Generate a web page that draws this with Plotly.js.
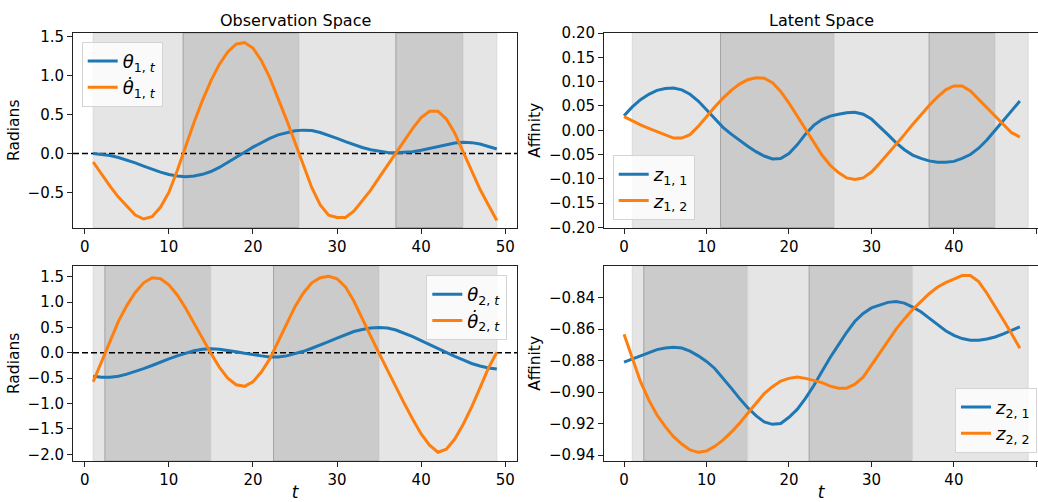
<!DOCTYPE html>
<html><head><meta charset="utf-8">
<script src="https://cdn.plot.ly/plotly-3.0.1.min.js"></script>
<style>html,body{margin:0;padding:0;background:#fff}#chart{width:1038px;height:502px}</style>
</head><body><div id="chart"></div>
<script>
// ---------- data ----------
const tObs = [1,2,3,4,5,6,7,8,9,10,11,12,13,14,15,16,17,18,19,20,21,22,23,24,25,26,27,28,29,30,31,32,33,34,35,36,37,38,39,40,41,42,43,44,45,46,47,48,49];
const tLat = [0,1,2,3,4,5,6,7,8,9,10,11,12,13,14,15,16,17,18,19,20,21,22,23,24,25,26,27,28,29,30,31,32,33,34,35,36,37,38,39,40,41,42,43,44,45,46,47,48];

const theta1 = [0.000,-0.010,-0.028,-0.053,-0.085,-0.122,-0.162,-0.203,-0.240,-0.270,-0.290,-0.298,-0.290,-0.268,-0.232,-0.180,-0.118,-0.052,0.015,0.080,0.140,0.193,0.237,0.268,0.289,0.298,0.292,0.267,0.232,0.192,0.150,0.110,0.075,0.046,0.026,0.013,0.008,0.012,0.022,0.040,0.064,0.090,0.114,0.132,0.142,0.138,0.120,0.092,0.057];
const theta1dot = [-0.11,-0.27,-0.42,-0.56,-0.68,-0.79,-0.84,-0.81,-0.69,-0.50,-0.22,0.10,0.40,0.68,0.93,1.14,1.30,1.40,1.42,1.35,1.19,0.97,0.71,0.43,0.14,-0.16,-0.44,-0.66,-0.79,-0.82,-0.82,-0.74,-0.61,-0.47,-0.31,-0.15,0.01,0.17,0.32,0.46,0.54,0.54,0.44,0.26,0.02,-0.23,-0.46,-0.66,-0.86];

const theta2 = [-0.46,-0.48,-0.48,-0.46,-0.42,-0.37,-0.31,-0.25,-0.18,-0.12,-0.06,-0.01,0.04,0.07,0.08,0.07,0.05,0.02,-0.01,-0.04,-0.06,-0.08,-0.08,-0.06,-0.02,0.03,0.09,0.15,0.22,0.29,0.36,0.42,0.46,0.49,0.50,0.49,0.45,0.39,0.32,0.24,0.16,0.08,0.00,-0.07,-0.14,-0.21,-0.26,-0.30,-0.32];
const theta2dot = [-0.57,-0.17,0.25,0.62,0.93,1.19,1.38,1.48,1.46,1.34,1.14,0.88,0.58,0.28,-0.01,-0.28,-0.50,-0.63,-0.66,-0.57,-0.38,-0.12,0.22,0.58,0.91,1.18,1.38,1.48,1.51,1.46,1.30,1.02,0.69,0.33,-0.01,-0.35,-0.68,-1.00,-1.31,-1.60,-1.82,-1.96,-1.90,-1.70,-1.41,-1.07,-0.69,-0.30,0.01];

const z11 = [0.030,0.048,0.063,0.074,0.082,0.086,0.087,0.083,0.074,0.060,0.042,0.023,0.006,-0.008,-0.021,-0.033,-0.044,-0.053,-0.059,-0.058,-0.048,-0.030,-0.008,0.010,0.022,0.029,0.033,0.036,0.037,0.033,0.023,0.008,-0.009,-0.026,-0.040,-0.051,-0.058,-0.063,-0.066,-0.066,-0.064,-0.058,-0.050,-0.037,-0.020,0.000,0.020,0.040,0.060];
const z12 = [0.028,0.019,0.011,0.004,-0.003,-0.010,-0.016,-0.016,-0.009,0.008,0.029,0.048,0.066,0.082,0.095,0.104,0.108,0.107,0.098,0.080,0.056,0.029,0.001,-0.026,-0.051,-0.072,-0.087,-0.098,-0.101,-0.098,-0.086,-0.068,-0.049,-0.029,-0.009,0.012,0.032,0.051,0.068,0.083,0.091,0.091,0.081,0.064,0.045,0.028,0.011,-0.005,-0.014];

const z21 = [-0.881,-0.879,-0.8775,-0.875,-0.873,-0.872,-0.8715,-0.872,-0.874,-0.877,-0.8805,-0.885,-0.891,-0.8975,-0.904,-0.910,-0.915,-0.919,-0.9205,-0.920,-0.916,-0.911,-0.904,-0.896,-0.887,-0.878,-0.870,-0.862,-0.855,-0.850,-0.8465,-0.8445,-0.843,-0.8425,-0.8435,-0.846,-0.849,-0.853,-0.857,-0.861,-0.864,-0.866,-0.867,-0.867,-0.8663,-0.865,-0.863,-0.8608,-0.8585];
const z22 = [-0.8633,-0.879,-0.8934,-0.905,-0.9146,-0.922,-0.9283,-0.933,-0.9368,-0.9383,-0.9375,-0.9345,-0.9305,-0.9255,-0.9199,-0.9135,-0.9072,-0.901,-0.8966,-0.893,-0.8913,-0.8905,-0.8913,-0.8925,-0.894,-0.8962,-0.8976,-0.8975,-0.895,-0.8905,-0.8828,-0.8754,-0.8675,-0.860,-0.8535,-0.8476,-0.8425,-0.8375,-0.8334,-0.8305,-0.8283,-0.826,-0.826,-0.8298,-0.8372,-0.8455,-0.8542,-0.863,-0.8722];

// shaded phases (t boundaries)
const topSpanStart = [1, 11.7, 25.5, 37.0, 45.0];
const topSpanEnd   = [11.7, 25.5, 37.0, 45.0, 49];
const topSpanShade = ['light','dark','light','dark','light'];
const botSpanStart = [1, 2.4, 15.0, 22.45, 35.0];
const botSpanEnd   = [2.4, 15.0, 22.45, 35.0, 49];
const botSpanShade = ['light','dark','light','dark','light'];

const xTicks = [0,10,20,30,40,50];
const yTicksTL = [-0.5,0.0,0.5,1.0,1.5];
const yTicksTR = [-0.20,-0.15,-0.10,-0.05,0.00,0.05,0.10,0.15,0.20];
const yTicksBL = [-2.0,-1.5,-1.0,-0.5,0.0,0.5,1.0,1.5];
const yTicksBR = [-0.94,-0.92,-0.90,-0.88,-0.86,-0.84];

// ---------- styling ----------
const BLUE = '#1f77b4', ORANGE = '#ff7f0e';
const FONT = 'DejaVu Sans, sans-serif';
const W = 1038, H = 502;
const px = v => v / W;
const py = v => 1 - v / H;

const lbl = {
  th1: '<i>θ</i><sub>1, <i>t</i></sub>',
  th1d: '<i>θ̇</i><sub>1, <i>t</i></sub>',
  th2: '<i>θ</i><sub>2, <i>t</i></sub>',
  th2d: '<i>θ̇</i><sub>2, <i>t</i></sub>',
  z11: '<i>z</i><sub>1, 1</sub>',
  z12: '<i>z</i><sub>1, 2</sub>',
  z21: '<i>z</i><sub>2, 1</sub>',
  z22: '<i>z</i><sub>2, 2</sub>'
};

function tr(x, y, color, name, xa, ya, leg) {
  return {x: x, y: y, type: 'scatter', mode: 'lines', name: name,
    line: {color: color, width: 3}, xaxis: xa, yaxis: ya, legend: leg};
}
const data = [
  tr(tObs, theta1, BLUE, lbl.th1, 'x', 'y', 'legend'),
  tr(tObs, theta1dot, ORANGE, lbl.th1d, 'x', 'y', 'legend'),
  tr(tLat, z11, BLUE, lbl.z11, 'x2', 'y2', 'legend2'),
  tr(tLat, z12, ORANGE, lbl.z12, 'x2', 'y2', 'legend2'),
  tr(tObs, theta2, BLUE, lbl.th2, 'x3', 'y3', 'legend3'),
  tr(tObs, theta2dot, ORANGE, lbl.th2d, 'x3', 'y3', 'legend3'),
  tr(tLat, z21, BLUE, lbl.z21, 'x4', 'y4', 'legend4'),
  tr(tLat, z22, ORANGE, lbl.z22, 'x4', 'y4', 'legend4')
];

function axisBase() {
  return {showline: true, mirror: true, linecolor: '#222', linewidth: 1,
    ticks: 'outside', ticklen: 5, tickwidth: 1, tickcolor: '#222',
    showgrid: false, zeroline: false, fixedrange: true,
    tickfont: {family: FONT, size: 15, color: '#000'}};
}
function xax(domain, range, anchor, title) {
  const a = Object.assign(axisBase(), {domain: domain, range: range, anchor: anchor,
    tickmode: 'array', tickvals: xTicks, ticktext: xTicks.map(String)});
  if (title) a.title = {text: title, font: {family: FONT, size: 17, color: '#000'}, standoff: 7};
  return a;
}
function yax(domain, range, anchor, ticks, fmt, title) {
  return Object.assign(axisBase(), {domain: domain, range: range, anchor: anchor,
    tickmode: 'array', tickvals: ticks, tickformat: fmt,
    title: {text: title, font: {family: FONT, size: 15.5, color: '#000'}, standoff: 4}});
}

const leftX = [px(73), px(517)];
const rightX = [px(604), 1];
const topY = [py(227.5), py(33)];
const botY = [py(461), py(265.7)];

const shapes = [];
function addSpans(xa, yaName, starts, ends, shades) {
  for (let i = 0; i < starts.length; i++) {
    const dark = shades[i] === 'dark';
    shapes.push({type: 'rect', xref: xa, yref: yaName + ' domain',
      x0: starts[i], x1: ends[i], y0: 0, y1: 1, layer: 'below',
      fillcolor: dark ? '#cbcbcb' : '#e5e5e5',
      line: {color: dark ? '#a3a3a3' : '#dadada', width: 1}});
  }
}
addSpans('x', 'y', topSpanStart, topSpanEnd, topSpanShade);
addSpans('x2', 'y2', topSpanStart, topSpanEnd, topSpanShade);
addSpans('x3', 'y3', botSpanStart, botSpanEnd, botSpanShade);
addSpans('x4', 'y4', botSpanStart, botSpanEnd, botSpanShade);
// zero reference lines on the observation panels
[['x', 'y'], ['x3', 'y3']].forEach(function (p) {
  shapes.push({type: 'line', xref: p[0] + ' domain', yref: p[1], x0: 0, x1: 1, y0: 0, y1: 0,
    layer: 'below', line: {color: '#000', width: 1.5, dash: '6px,3px'}});
});

function legendAt(x, y, xanchor, yanchor) {
  return {x: x, y: y, xanchor: xanchor, yanchor: yanchor, xref: 'paper', yref: 'paper',
    bgcolor: 'rgba(255,255,255,0.8)', bordercolor: '#d4d4d4', borderwidth: 1,
    font: {family: FONT, size: 18, color: '#000'}, tracegroupgap: 0, itemwidth: 30};
}

const layout = {
  width: W, height: H,
  margin: {l: 0, r: 0, t: 0, b: 0},
  paper_bgcolor: '#fff', plot_bgcolor: '#fff',
  font: {family: FONT, size: 15, color: '#000'},
  showlegend: true,
  xaxis: xax(leftX, [-1.4, 51.4], 'y', null),
  yaxis: yax(topY, [-0.949, 1.542], 'x', yTicksTL, '.1f', 'Radians'),
  xaxis2: xax(rightX, [-2.43, 50.2], 'y2', null),
  yaxis2: yax(topY, [-0.2, 0.2], 'x2', yTicksTR, '.2f', 'Affinity'),
  xaxis3: xax(leftX, [-1.4, 51.4], 'y3', '<i>t</i>'),
  yaxis3: yax(botY, [-2.132, 1.717], 'x3', yTicksBL, '.1f', 'Radians'),
  xaxis4: xax(rightX, [-2.43, 50.2], 'y4', '<i>t</i>'),
  yaxis4: yax(botY, [-0.9438, -0.8197], 'x4', yTicksBR, '.2f', 'Affinity'),
  legend: legendAt(px(81.7), py(41.7), 'left', 'top'),
  legend2: legendAt(px(612.7), py(220), 'left', 'bottom'),
  legend3: legendAt(px(507.3), py(275), 'right', 'top'),
  legend4: legendAt(px(1037), py(452.7), 'right', 'bottom'),
  shapes: shapes,
  annotations: [
    {text: 'Observation Space', xref: 'paper', yref: 'paper', x: (leftX[0] + leftX[1]) / 2, y: py(21),
     xanchor: 'center', yanchor: 'middle', showarrow: false, font: {family: FONT, size: 16, color: '#000'}},
    {text: 'Latent Space', xref: 'paper', yref: 'paper', x: (px(604) + px(1039)) / 2, y: py(21),
     xanchor: 'center', yanchor: 'middle', showarrow: false, font: {family: FONT, size: 16, color: '#000'}}
  ]
};

Plotly.newPlot('chart', data, layout, {displayModeBar: false, staticPlot: true});
</script>
</body></html>
